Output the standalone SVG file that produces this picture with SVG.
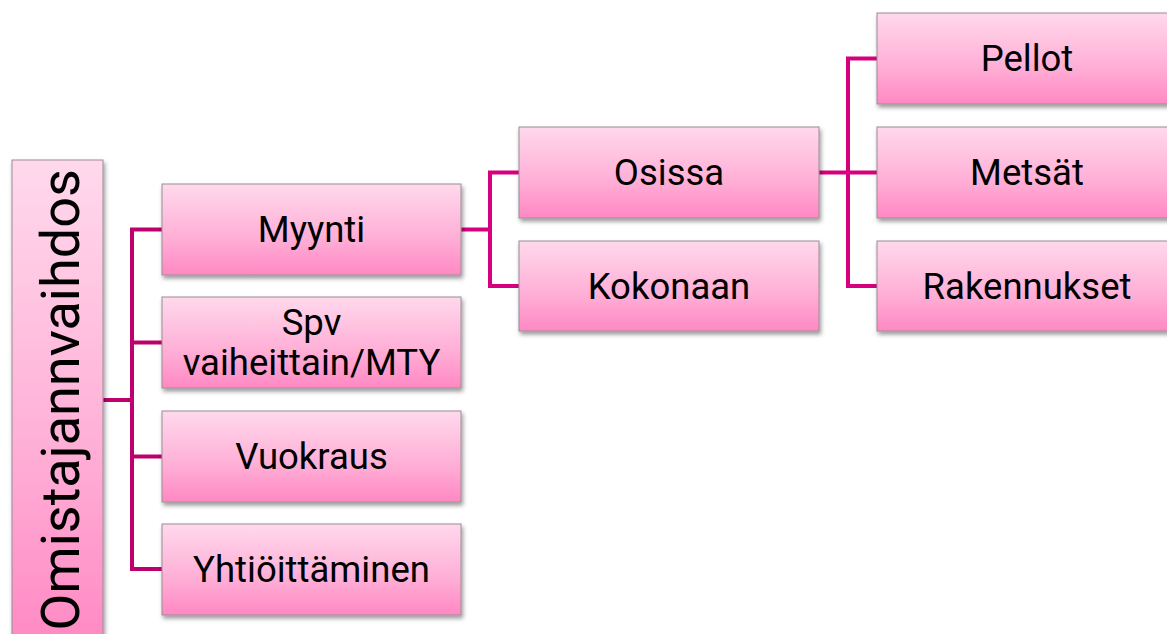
<svg xmlns="http://www.w3.org/2000/svg" width="1167" height="634" viewBox="0 0 1167 634">
  <defs>
    <linearGradient id="boxFill" x1="0" y1="0" x2="0" y2="1">
      <stop offset="0" stop-color="#ffd9ec"/>
      <stop offset="0.6" stop-color="#ffaed6"/>
      <stop offset="1" stop-color="#ff88c3"/>
    </linearGradient>
    <filter id="shadow" x="-10%" y="-10%" width="125%" height="130%">
      <feDropShadow dx="1.5" dy="3" stdDeviation="2" flood-color="#000" flood-opacity="0.4"/>
    </filter>
  </defs>
  <style>
    .box { fill: url(#boxFill); stroke: #9c8c94; stroke-width: 1; filter: url(#shadow); }
    .label { font-family: Roboto, "Liberation Sans", sans-serif; font-size: 36.5px; fill: #000; text-anchor: middle; }
    .root-label { font-family: Roboto, "Liberation Sans", sans-serif; font-size: 54px; fill: #000; text-anchor: middle; }
    .wire { fill: none; stroke-width: 4; stroke-linejoin: miter; }
    .wire-a { stroke: #bd006c; }
    .wire-b { stroke: #d6007f; }
  </style>

  <!-- connectors -->
  <g id="connectors">
    <path class="wire wire-a" d="M103 400 H132 M162 229.5 H132 V569 H162 M132 342.5 H162 M132 456.5 H162"/>
    <path class="wire wire-b" d="M461 229.5 H490 M519 172.5 H490 V286 H519"/>
    <path class="wire wire-b" d="M819 172.5 H848 M877 58.5 H848 V286 H877 M848 172.5 H877"/>
  </g>

  <!-- root -->
  <g id="omistajanvaihdos">
    <rect class="box" x="12" y="160" width="91" height="490"/>
    <text class="root-label" transform="translate(79,400) rotate(-90)">Omistajannvaihdos</text>
  </g>

  <!-- level 1 -->
  <g id="myynti">
    <rect class="box" x="162" y="184" width="299" height="91"/>
    <text class="label" x="311.5" y="242">Myynti</text>
  </g>
  <g id="spv">
    <rect class="box" x="162" y="297" width="299" height="91"/>
    <text class="label" x="311.5" y="335">Spv</text>
    <text class="label" x="311.5" y="375">vaiheittain/MTY</text>
  </g>
  <g id="vuokraus">
    <rect class="box" x="162" y="411" width="299" height="91"/>
    <text class="label" x="311.5" y="469">Vuokraus</text>
  </g>
  <g id="yhtioittaminen">
    <rect class="box" x="162" y="524" width="299" height="91"/>
    <text class="label" x="311.5" y="582">Yhtiöittäminen</text>
  </g>

  <!-- level 2 -->
  <g id="osissa">
    <rect class="box" x="519" y="127" width="300" height="91"/>
    <text class="label" x="669" y="185">Osissa</text>
  </g>
  <g id="kokonaan">
    <rect class="box" x="519" y="241" width="300" height="90"/>
    <text class="label" x="669" y="299">Kokonaan</text>
  </g>

  <!-- level 3 -->
  <g id="pellot">
    <rect class="box" x="877" y="13" width="300" height="91"/>
    <text class="label" x="1027" y="71">Pellot</text>
  </g>
  <g id="metsat">
    <rect class="box" x="877" y="127" width="300" height="91"/>
    <text class="label" x="1027" y="185">Metsät</text>
  </g>
  <g id="rakennukset">
    <rect class="box" x="877" y="241" width="300" height="90"/>
    <text class="label" x="1027" y="299">Rakennukset</text>
  </g>
</svg>
